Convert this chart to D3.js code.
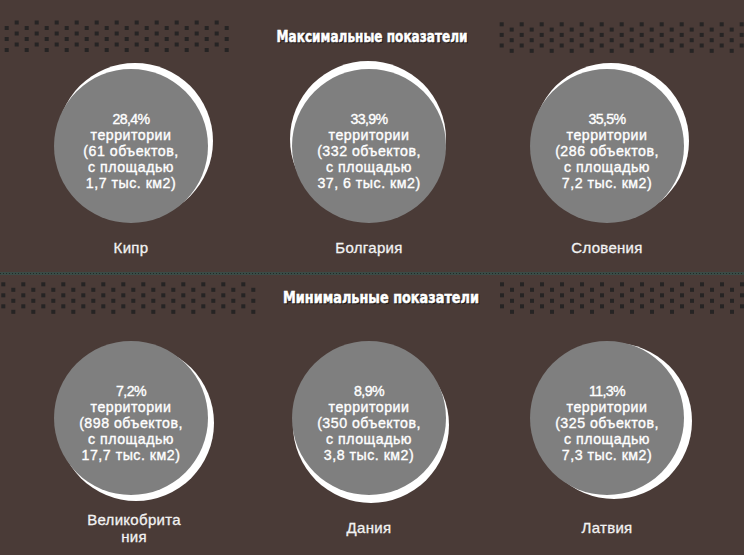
<!DOCTYPE html>
<html>
<head>
<meta charset="utf-8">
<script src="https://cdn.jsdelivr.net/npm/d3@7"></script>
<style>
body{margin:0;background:#4a3b37}
</style>
</head>
<body>
<svg></svg>
<script>
var screen = {width: 744, height: 555}

// data
var groups = ["Максимальные показатели", "Минимальные показатели"]
var countries = ["Кипр", "Болгария", "Словения", "Великобритания", "Дания", "Латвия"]
var groupOf = [0, 0, 0, 1, 1, 1]
var percents = ["28,4", "33,9", "35,5", "7,2", "8,9", "11,3"]
var objects = [61, 332, 286, 898, 350, 325]
var areas = ["1,7", "37, 6", "7,2", "17,7", "3,8", "7,3"]

// the white "glint" behind each disc, offset (dx,dy)
var glint = [[4, -5], [-1, -7], [4, -5], [5, 5], [2, 7], [7, 3]]

var bands = [
    {x0: 6.7, x1: 236, y0: 22.5, step: 5.5, phase: 1},
    {x0: 501.7, x1: 744, y0: 24.3, step: 5.3, phase: 0},
    {x0: 3.3, x1: 262, y0: 284.3, step: 5.5, phase: 0},
    {x0: 502, x1: 744, y0: 284.3, step: 5.5, phase: 0}
]

var rows = countries.map(function(c, i) {
    return {
        country: c,
        group: groups[groupOf[i]],
        col: i % 3,
        lines: [percents[i] + "%", "территории", "(" + objects[i] + " объектов,", "с площадью", areas[i] + " тыс. км2)"],
        glint: glint[i]
    }
})

var svg = d3.select("svg")
    .attr("width", screen.width)
    .attr("height", screen.height)

svg.append("rect")
    .attr("width", screen.width)
    .attr("height", screen.height)
    .attr("fill", "#4a3b37")

var xScale = d3.scalePoint().domain([0, 1, 2]).range([131, 607])
var yScale = d3.scalePoint().domain(groups).range([146, 418])
var titleY = d3.scalePoint().domain(groups).range([42, 303])
var titleX = d3.scalePoint().domain(groups).range([372, 381])

// dotted bands
var dots = []
bands.forEach(function(b) {
    d3.range(6).forEach(function(r) {
        var start = b.x0 + 10 * ((r + b.phase) % 2)
        for (var x = start; x <= b.x1; x += 20) {
            dots.push({x: x, y: b.y0 + r * b.step})
        }
    })
})
svg.append("g").selectAll("rect").data(dots).enter().append("rect")
    .attr("x", function(d) { return d.x - 2 })
    .attr("y", function(d) { return d.y - 2 })
    .attr("width", 4)
    .attr("height", 4)
    .attr("fill", "#262424")

// divider
svg.append("rect")
    .attr("x", 0).attr("y", 272)
    .attr("width", screen.width).attr("height", 3)
    .attr("fill", "#3b4b46")
svg.append("line")
    .attr("x1", 0).attr("x2", screen.width)
    .attr("y1", 273.5).attr("y2", 273.5)
    .attr("stroke", "#1f2a27")
    .attr("stroke-width", 1)
    .attr("stroke-dasharray", "1,2")

// titles
var titles = svg.append("g").selectAll("g").data(groups).enter().append("g")
titles.append("text")
    .attr("x", function(d) { return titleX(d) + 1 })
    .attr("y", function(d) { return titleY(d) + 1 })
    .attr("fill", "#1e1a19")
    .attr("stroke", "#1e1a19")
    .text(function(d) { return d })
titles.append("text")
    .attr("x", function(d) { return titleX(d) })
    .attr("y", function(d) { return titleY(d) })
    .attr("fill", "#ffffff")
    .attr("stroke", "#ffffff")
    .text(function(d) { return d })
titles.selectAll("text")
    .attr("text-anchor", "middle")
    .attr("font-family", "'Liberation Sans Narrow', 'DejaVu Sans Condensed', Roboto, sans-serif")
    .attr("font-weight", "bold")
    .attr("font-size", 16)
    .attr("stroke-width", 0.5)
    .attr("textLength", function(d) { return d.indexOf("Макс") == 0 ? 191 : 196 })
    .attr("lengthAdjust", "spacingAndGlyphs")

// discs
var r = 77
var cells = svg.append("g").selectAll("g").data(rows).enter().append("g")
    .attr("transform", function(d) { return "translate(" + xScale(d.col) + "," + yScale(d.group) + ")" })

cells.append("circle")
    .attr("cx", function(d) { return d.glint[0] })
    .attr("cy", function(d) { return d.glint[1] })
    .attr("r", r + 1)
    .attr("fill", "#ffffff")

cells.append("circle")
    .attr("r", r)
    .attr("fill", "#7f7f7f")

cells.append("text")
    .attr("text-anchor", "middle")
    .attr("fill", "#ffffff")
    .attr("stroke", "#ffffff")
    .attr("stroke-width", 0.35)
    .attr("font-family", "'Liberation Sans', Arial, sans-serif")
    .attr("font-size", 14.2)
    .attr("letter-spacing", 0.5)
    .selectAll("tspan").data(function(d) { return d.lines }).enter().append("tspan")
    .attr("x", 0)
    .attr("y", function(d, i) { return -22 + i * 16 })
    .attr("letter-spacing", function(d, i) { return i == 0 ? -0.6 : null })
    .text(function(d) { return d })

cells.append("text")
    .attr("text-anchor", "middle")
    .attr("fill", "#f2f2f2")
    .attr("stroke", "#f2f2f2")
    .attr("stroke-width", 0.3)
    .attr("font-family", "'Liberation Sans', Arial, sans-serif")
    .attr("font-size", 15)
    .attr("letter-spacing", 0.3)
    .selectAll("tspan")
    .data(function(d) {
        var c = d.country
        return c.length > 11 ? [c.slice(0, 11), c.slice(11)] : [c]
    })
    .enter().append("tspan")
    .attr("x", function(d, i, n) { return n.length > 1 ? 3 : 0 })
    .attr("y", function(d, i, n) {
        var base = d3.select(this.parentNode).datum().group == groups[0] ? 107 : 115
        return n.length > 1 ? base - 8 + i * 17 : base
    })
    .text(function(d) { return d })
</script>
</body>
</html>
